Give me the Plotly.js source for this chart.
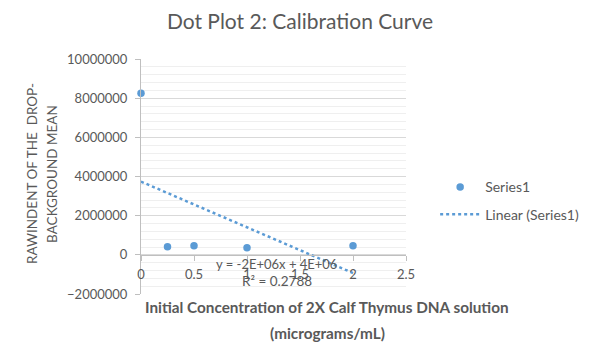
<!DOCTYPE html>
<html>
<head>
<meta charset="utf-8">
<script src="https://cdn.plot.ly/plotly-3.0.1.min.js"></script>
<style>html,body{margin:0;padding:0;background:#fff;}#chart{width:600px;height:353px;}</style>
</head>
<body>
<div id="chart"></div>
<script>
// Data
const concentration = [0, 0.25, 0.5, 1, 2];
const meanIntensity = [8250000, 410000, 460000, 360000, 460000];
// Linear trendline endpoints
const trendX = [0, 2];
const trendY = [3740000, -930000];
const seriesName = 'Series1';
const trendName = 'Linear (Series1)';
const equationText = 'y = -2E+06x + 4E+06';
const r2Text = 'R² = 0.2788';

const font = 'Lato, "Open Sans", sans-serif';
const grey = '#595959';
const blue = '#5b9bd5';

const traces = [
  {
    x: concentration, y: meanIntensity, type: 'scatter', mode: 'markers',
    name: seriesName, legendgroup: 'a',
    marker: {color: blue, size: 7.5}, cliponaxis: false
  },
  {
    x: trendX, y: trendY, type: 'scatter', mode: 'lines',
    name: trendName, legendgroup: 'b',
    line: {color: blue, width: 2.5, dash: 'dot'}
  }
];

const layout = {
  width: 600, height: 353,
  margin: {l: 141, r: 194, t: 59, b: 59},
  paper_bgcolor: '#fff', plot_bgcolor: '#fff',
  font: {family: font, color: grey, size: 13},
  title: {text: 'Dot Plot 2: Calibration Curve', x: 0.5, xref: 'container', xanchor: 'center',
          y: 0.938, yref: 'container', yanchor: 'middle',
          font: {family: font, size: 21, color: grey}},
  xaxis: {
    range: [0, 2.5], dtick: 0.5, tick0: 0,
    anchor: 'free', position: 1/6,
    showgrid: false, zeroline: false,
    showline: true, linecolor: '#bfbfbf', linewidth: 1,
    ticks: 'outside', ticklen: 5, tickcolor: '#bfbfbf',
    ticklabelstandoff: 3,
    tickfont: {family: font, size: 13, color: grey}
  },
  yaxis: {
    range: [-2000000, 10000000], dtick: 2000000, tick0: 0,
    tickformat: 'd',
    showgrid: true, gridcolor: '#d9d9d9', gridwidth: 1,
    zeroline: false,
    showline: true, linecolor: '#bfbfbf', linewidth: 1,
    ticks: 'outside', ticklen: 5, tickcolor: '#bfbfbf',
    ticklabelstandoff: 5,
    minor: {dtick: 400000, showgrid: true, gridcolor: '#efefef', ticks: ''},
    tickfont: {family: font, size: 13, color: grey}
  },
  showlegend: true,
  legend: {
    x: 1.11, xanchor: 'left', y: 0.522, yanchor: 'top',
    traceorder: 'grouped', tracegroupgap: 6,
    itemwidth: 40,
    font: {family: font, size: 14, color: grey},
    bgcolor: 'rgba(0,0,0,0)'
  },
  annotations: [
    {text: equationText, xref: 'paper', yref: 'paper', x: 0.513, y: 0.128,
     showarrow: false, xanchor: 'center', yanchor: 'middle', font: {family: font, size: 13, color: grey}},
    {text: r2Text, xref: 'paper', yref: 'paper', x: 0.513, y: 0.055,
     showarrow: false, xanchor: 'center', yanchor: 'middle', font: {family: font, size: 13.5, color: grey}},
    {text: '<b>Initial Concentration of 2X Calf Thymus DNA solution</b>', xref: 'paper', yref: 'paper',
     x: 0.702, y: -0.055, showarrow: false, xanchor: 'center', yanchor: 'middle',
     font: {family: font, size: 15.3, color: grey}},
    {text: '<b>(micrograms/mL)</b>', xref: 'paper', yref: 'paper',
     x: 0.702, y: -0.166, showarrow: false, xanchor: 'center', yanchor: 'middle',
     font: {family: font, size: 15.3, color: grey}},
    {text: 'RAWINDENT OF THE  DROP-', xref: 'paper', yref: 'paper', textangle: -90,
     x: -0.411, y: 0.511, showarrow: false, xanchor: 'center', yanchor: 'middle',
     font: {family: font, size: 13.5, color: grey}},
    {text: 'BACKGROUND MEAN', xref: 'paper', yref: 'paper', textangle: -90,
     x: -0.336, y: 0.511, showarrow: false, xanchor: 'center', yanchor: 'middle',
     font: {family: font, size: 13.5, color: grey}}
  ]
};

Plotly.newPlot('chart', traces, layout, {displayModeBar: false, staticPlot: true});
</script>
</body>
</html>
